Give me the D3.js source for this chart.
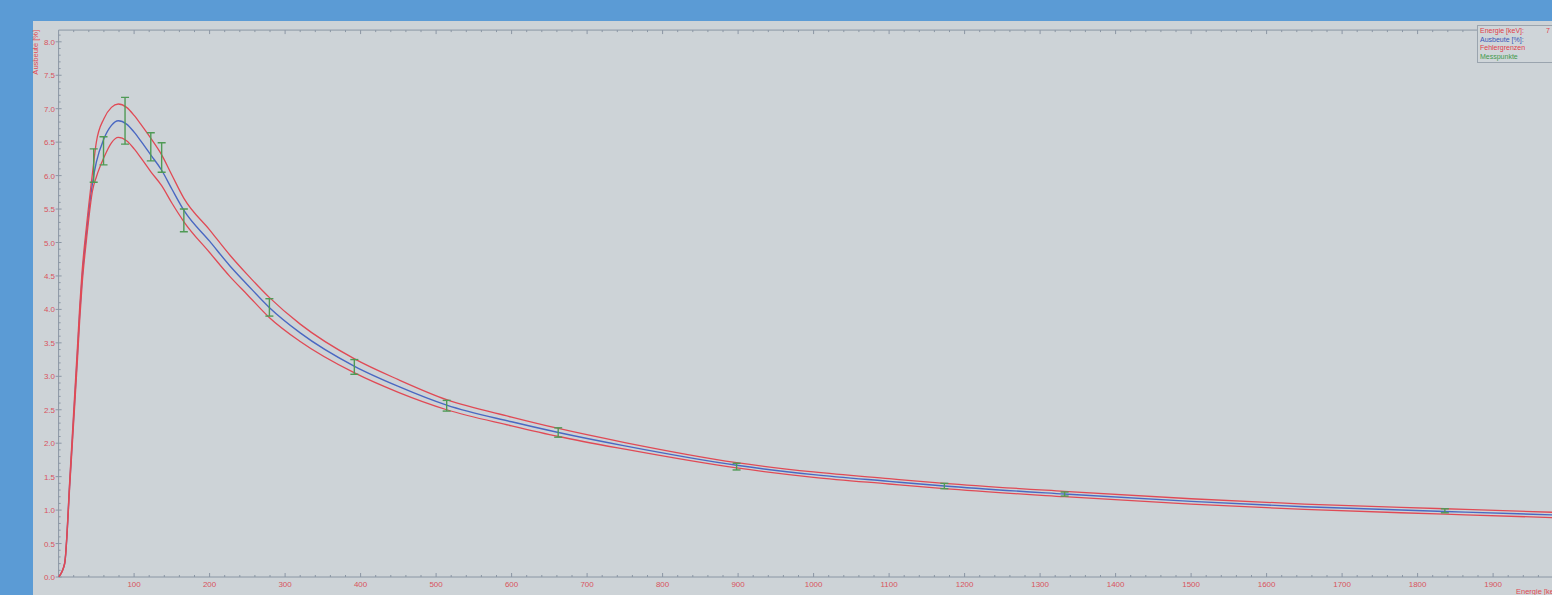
<!DOCTYPE html>
<html>
<head>
<meta charset="utf-8">
<script src="https://cdn.jsdelivr.net/npm/d3@7"></script>
<style>
  html, body { margin: 0; padding: 0; background: #5b9bd5; overflow: hidden; }
  svg { display: block; }
  text { font-family: "Liberation Sans", Arial, sans-serif; }
</style>
</head>
<body>
<svg id="chart" width="1552" height="595"></svg>
<script>
// Efficiency curve (Ausbeute) versus gamma energy, with error band and measured points
const curveEnergy = [0, 8, 15, 20, 25, 28, 31, 37, 45, 50, 60, 70, 79, 90, 100, 110, 122, 136.5, 150, 166,
  200, 227, 250, 279, 320, 392, 450, 514, 600, 662, 750, 898, 1000, 1100, 1173, 1332, 1500, 1650, 1836, 2000];
const fitYield = [0, 0.2, 1.45, 2.4, 3.35, 3.95, 4.45, 5.15, 5.9, 6.2, 6.55, 6.75, 6.82, 6.77, 6.65, 6.5, 6.31, 6.08, 5.80, 5.48,
  5.02, 4.65, 4.37, 4.03, 3.65, 3.15, 2.85, 2.57, 2.32, 2.16, 1.96, 1.67, 1.53, 1.43, 1.36, 1.24, 1.13, 1.05, 0.98, 0.92];
const upperLimit = [0, 0.21, 1.5, 2.48, 3.45, 4.05, 4.55, 5.25, 6.05, 6.5, 6.85, 7.02, 7.07, 7.02, 6.9, 6.75, 6.56, 6.31, 6.01, 5.66,
  5.19, 4.81, 4.52, 4.18, 3.78, 3.26, 2.95, 2.65, 2.39, 2.22, 2.01, 1.71, 1.57, 1.47, 1.40, 1.28, 1.17, 1.09, 1.02, 0.96];
const lowerLimit = [0, 0.19, 1.4, 2.32, 3.25, 3.85, 4.35, 5.05, 5.78, 5.98, 6.27, 6.49, 6.57, 6.52, 6.4, 6.25, 6.06, 5.85, 5.59, 5.31,
  4.85, 4.49, 4.22, 3.88, 3.52, 3.05, 2.76, 2.50, 2.26, 2.10, 1.91, 1.63, 1.49, 1.39, 1.32, 1.20, 1.09, 1.01, 0.94, 0.88];

// Measured calibration lines (keV), yield (%) and uncertainty (%)
const pointEnergy = [46.5, 59.5, 88.0, 122.1, 136.5, 165.9, 279.2, 391.7, 514.0, 661.7, 898.0, 1173.2, 1332.5, 1836.1];
const pointYield = [6.15, 6.37, 6.82, 6.43, 6.27, 5.33, 4.03, 3.14, 2.56, 2.16, 1.65, 1.36, 1.24, 0.99];
const pointError = [0.25, 0.21, 0.35, 0.21, 0.22, 0.17, 0.13, 0.11, 0.08, 0.07, 0.05, 0.04, 0.03, 0.03];

const xTicks = [100, 200, 300, 400, 500, 600, 700, 800, 900, 1000, 1100, 1200, 1300, 1400, 1500, 1600, 1700, 1800, 1900];
const yTicks = [0.0, 0.5, 1.0, 1.5, 2.0, 2.5, 3.0, 3.5, 4.0, 4.5, 5.0, 5.5, 6.0, 6.5, 7.0, 7.5, 8.0];
const legendItems = ["Energie [keV]:", "Ausbeute [%]:", "Fehlergrenzen", "Messpunkte"];
const legendColors = ["#e0404a", "#3a55b8", "#e0404a", "#3f9a4c"];

const svg = d3.select("#chart");
const W = 1552, H = 595;
const red = "#e04a55", labelRed = "#d9535e", axisCol = "#8a96a4";

// panel
svg.append("rect").attr("x", 33).attr("y", 21).attr("width", W - 33).attr("height", H - 21).attr("fill", "#cdd3d7");

const x = d3.scaleLinear().domain([0, 2000]).range([58.6, 1568.6]);
const y = d3.scaleLinear().domain([0, 8]).range([577, 41.8]);
const yTop = y(8.175);
const x0 = x(0), y0 = y(0);

svg.append("defs").append("clipPath").attr("id", "plot")
  .append("rect").attr("x", x0).attr("y", yTop).attr("width", x(2000) - x0).attr("height", y0 - yTop);

// frame lines
const frame = svg.append("g").attr("stroke", axisCol).attr("stroke-width", 1).attr("fill", "none");
frame.append("line").attr("x1", x0).attr("x2", x0).attr("y1", yTop).attr("y2", y0);
frame.append("line").attr("x1", x0).attr("x2", W).attr("y1", y0).attr("y2", y0);
frame.append("line").attr("x1", x0).attr("x2", 1477).attr("y1", yTop).attr("y2", yTop);

// minor and major ticks
const minorX = d3.range(20, 2000, 20).filter(v => v % 100 !== 0);
const minorY = d3.range(1, 82).map(i => i / 10).filter(v => Math.round(v * 10) % 5 !== 0);
const ticks = svg.append("g").attr("stroke", axisCol).attr("stroke-width", 1);
ticks.selectAll(".mxb").data(minorX).join("line")
  .attr("x1", d => x(d)).attr("x2", d => x(d)).attr("y1", y0).attr("y2", y0 - 2);
ticks.selectAll(".mxt").data(minorX.filter(d => x(d) < 1477)).join("line")
  .attr("x1", d => x(d)).attr("x2", d => x(d)).attr("y1", yTop).attr("y2", yTop + 2);
ticks.selectAll(".Mxb").data(xTicks).join("line")
  .attr("x1", d => x(d)).attr("x2", d => x(d)).attr("y1", y0).attr("y2", y0 - 4);
ticks.selectAll(".Mxt").data(xTicks.filter(d => x(d) < 1477)).join("line")
  .attr("x1", d => x(d)).attr("x2", d => x(d)).attr("y1", yTop).attr("y2", yTop + 4);
ticks.selectAll(".my").data(minorY).join("line")
  .attr("x1", x0).attr("x2", x0 + 2).attr("y1", d => y(d)).attr("y2", d => y(d));
ticks.selectAll(".My").data(yTicks).join("line")
  .attr("x1", x0 - 3).attr("x2", x0 + 3).attr("y1", d => y(d)).attr("y2", d => y(d));

// tick labels
svg.append("g").selectAll("text").data(xTicks).join("text")
  .attr("x", d => x(d)).attr("y", 587).attr("text-anchor", "middle")
  .attr("font-size", 8).attr("fill", labelRed).text(d => d);
svg.append("g").selectAll("text").data(yTicks).join("text")
  .attr("x", 55).attr("y", d => y(d) + 3).attr("text-anchor", "end")
  .attr("font-size", 8).attr("fill", labelRed).text(d => d.toFixed(1));

// axis titles
svg.append("text").attr("transform", "translate(38,30) rotate(-90)")
  .attr("text-anchor", "end").attr("font-size", 7.5).attr("fill", red).text("Ausbeute [%]");
svg.append("text").attr("x", 1516).attr("y", 594).attr("font-size", 7.5).attr("fill", red).text("Energie [keV]");

// fit curve and error limits
const plot = svg.append("g").attr("clip-path", "url(#plot)");
const line = vals => d3.line().x((d, i) => x(curveEnergy[i])).y(d => y(d)).curve(d3.curveMonotoneX)(vals);
plot.append("path").attr("d", line(fitYield)).attr("fill", "none").attr("stroke", "#4a68c2").attr("stroke-width", 1.4);
plot.append("path").attr("d", line(upperLimit)).attr("fill", "none").attr("stroke", red).attr("stroke-width", 1.3);
plot.append("path").attr("d", line(lowerLimit)).attr("fill", "none").attr("stroke", red).attr("stroke-width", 1.3);

// measured points with error bars
const pts = plot.append("g").attr("stroke", "#4f9a55").attr("stroke-width", 1.4);
pointEnergy.forEach((e, i) => {
  const px = x(e), top = y(pointYield[i] + pointError[i]), bot = y(pointYield[i] - pointError[i]);
  pts.append("line").attr("x1", px).attr("x2", px).attr("y1", top).attr("y2", bot);
  pts.append("line").attr("x1", px - 4).attr("x2", px + 4).attr("y1", top).attr("y2", top);
  pts.append("line").attr("x1", px - 4).attr("x2", px + 4).attr("y1", bot).attr("y2", bot);
});

// legend
const lg = svg.append("g");
lg.append("rect").attr("x", 1477.5).attr("y", 25.5).attr("width", 80).attr("height", 37)
  .attr("fill", "#cfd5d9").attr("stroke", "#9aa4ae").attr("stroke-width", 1);
lg.selectAll(".item").data(legendItems).join("text")
  .attr("x", 1480).attr("y", (d, i) => 33 + i * 8.5).attr("font-size", 7)
  .attr("fill", (d, i) => legendColors[i]).text(d => d);
lg.append("text").attr("x", 1546).attr("y", 33).attr("font-size", 7).attr("fill", legendColors[0]).text("7");
</script>
</body>
</html>
